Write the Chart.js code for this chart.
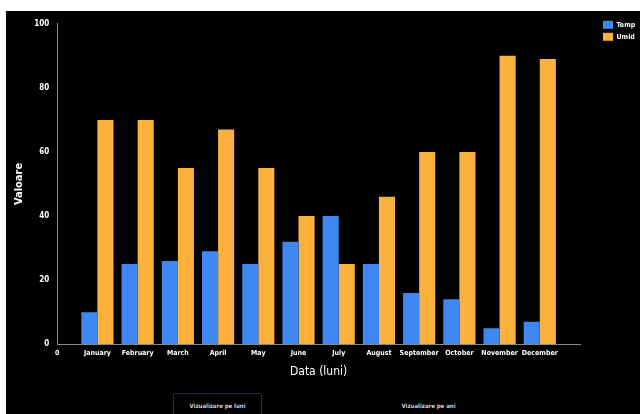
<!DOCTYPE html>
<html lang="ro">
<head>
    <meta charset="UTF-8">
    <title>Temp / Umid</title>
    <script src="https://cdn.jsdelivr.net/npm/chart.js"></script>
    <style>
        body {
            margin: 0;
            background-color: #fff;
            font-family: 'DejaVu Sans Condensed', 'Liberation Sans Narrow', sans-serif;
        }

        .panel {
            position: absolute;
            left: 6px;
            top: 11px;
            width: 634px;
            height: 403px;
            background-color: #000;
            overflow: hidden;
        }

        .chart-box {
            position: relative;
            width: 634px;
            height: 372px;
        }

        .btn {
            position: absolute;
            top: 382px;
            height: 24px;
            background: #000;
            color: #cfcfcf;
            font-family: 'DejaVu Sans Condensed', 'Liberation Sans Narrow', sans-serif;
            font-size: 6px;
            font-weight: bold;
            border: 1px solid transparent;
            padding: 0;
        }

        .btn.active {
            border-color: #22304f;
            border-radius: 2px;
        }
    </style>
</head>
<body>

    <div class="panel">
        <div class="chart-box">
            <canvas id="lunaChart"></canvas>
        </div>
        <button class="btn active" style="left:167px; width:89px;">Vizualizare pe luni</button>
        <button class="btn" style="left:378px; width:89px;">Vizualizare pe ani</button>
    </div>

    <script>
        // date lunare
        var luni = ['January', 'February', 'March', 'April', 'May', 'June',
                    'July', 'August', 'September', 'October', 'November', 'December'];
        var temp = [10, 25, 26, 29, 25, 32, 40, 25, 16, 14, 5, 7];
        var umid = [70, 70, 55, 67, 55, 40, 25, 46, 60, 60, 90, 89];
        var yTicks = [0, 20, 40, 60, 80, 100];

        // axa x incepe cu "0" si are un slot gol la final
        var labels = ['0'].concat(luni, ['']);
        var tempData = [null].concat(temp, [null]);
        var umidData = [null].concat(umid, [null]);

        var familie = "'DejaVu Sans Condensed', 'Liberation Sans Narrow', sans-serif";
        var tickFont = { family: familie, size: 7, weight: 'bold' };
        var yFont = { family: familie, size: 8, weight: 'bold' };

        var ctx = document.getElementById('lunaChart').getContext('2d');
        var lunaChart = new Chart(ctx, {
            type: 'bar',
            data: {
                labels: labels,
                datasets: [{
                    label: 'Temp',
                    data: tempData,
                    backgroundColor: '#3f88f2',
                    borderWidth: 0
                }, {
                    label: 'Umid',
                    data: umidData,
                    backgroundColor: '#fbb13c',
                    borderWidth: 0
                }]
            },
            options: {
                responsive: true,
                maintainAspectRatio: false,
                animation: false,
                datasets: {
                    bar: { categoryPercentage: 0.8, barPercentage: 1 }
                },
                layout: {
                    padding: { top: 1, left: 7, right: 0, bottom: 0 }
                },
                plugins: {
                    legend: {
                        position: 'right',
                        align: 'start',
                        maxWidth: 41,
                        title: {
                            display: true,
                            text: '',
                            padding: 0,
                            font: { size: 4 }
                        },
                        labels: {
                            color: '#ffffff',
                            boxWidth: 10,
                            boxHeight: 8,
                            padding: 4,
                            font: tickFont
                        }
                    },
                    tooltip: { enabled: false }
                },
                scales: {
                    x: {
                        offset: false,
                        grid: { display: false, drawTicks: false },
                        border: { color: '#888', width: 1 },
                        ticks: { color: '#ffffff', font: tickFont, maxRotation: 0, autoSkip: false, padding: 5 },
                        title: {
                            display: true,
                            text: 'Data (luni)',
                            color: '#ffffff',
                            font: { family: familie, size: 12 },
                            padding: { top: 2 }
                        }
                    },
                    y: {
                        min: 0,
                        max: 100,
                        grid: { display: false, drawTicks: false },
                        border: { color: '#888', width: 1 },
                        afterBuildTicks: function (axis) {
                            axis.ticks = yTicks.map(function (v) { return { value: v }; });
                        },
                        ticks: { color: '#ffffff', font: yFont, padding: 8 },
                        title: {
                            display: true,
                            text: 'Valoare',
                            color: '#ffffff',
                            font: { family: familie, size: 11, weight: 'bold' },
                            padding: { top: 0, bottom: 0 }
                        }
                    },
                    // spatiu gol intre grafic si legenda
                    spatiu: {
                        position: 'right',
                        display: true,
                        grid: { display: false, drawTicks: false },
                        border: { display: false },
                        ticks: { display: false },
                        afterFit: function (axis) { axis.width = 19; }
                    }
                }
            }
        });
    </script>

</body>
</html>
